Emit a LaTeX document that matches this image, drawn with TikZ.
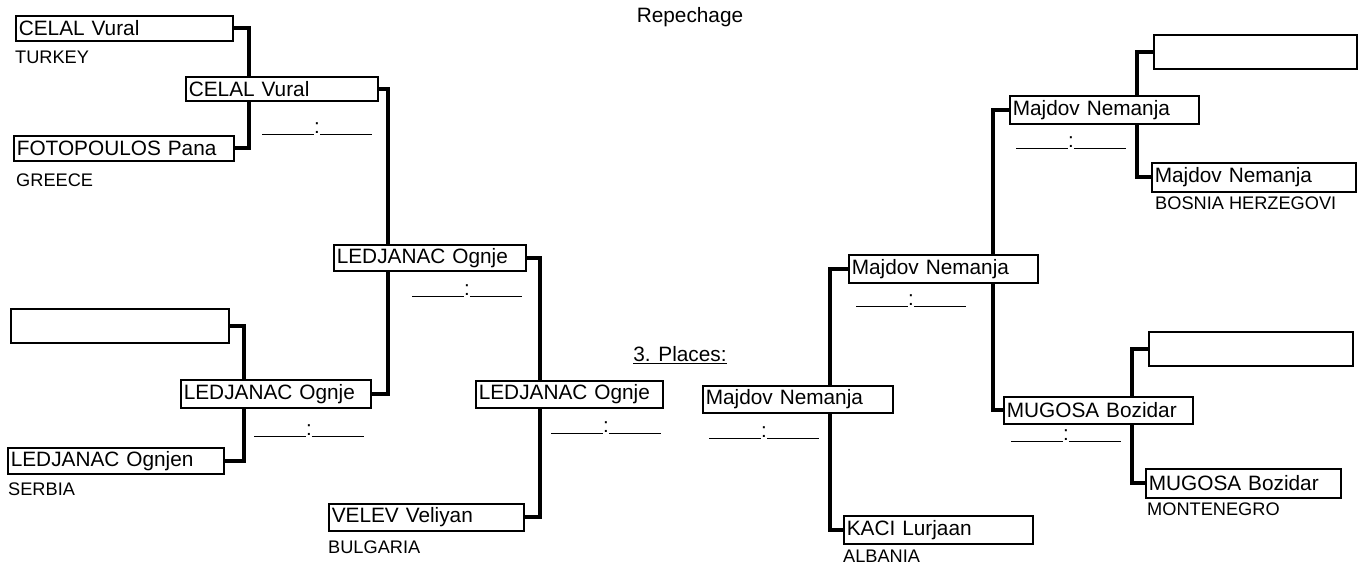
\documentclass[tikz,border=0pt]{standalone}
\usepackage{fontspec}
\setmainfont{Liberation Sans}
\pgfdeclarelayer{background}
\pgfsetlayers{background,main}
\begin{document}
\begin{tikzpicture}[x=1pt,y=-1pt,
  namebox/.style={draw, line width=1.6pt, fill=white, anchor=north west,
    inner xsep=3pt, inner ysep=0pt, align=left,
    font=\fontsize{20.8}{22}\selectfont},
  country/.style={anchor=west, inner sep=0pt, font=\fontsize{18.2}{19}\selectfont},
  score/.style={anchor=base, inner sep=0pt, font=\fontsize{20.5}{22}\selectfont},
  title/.style={inner sep=0pt, font=\fontsize{20.8}{22}\selectfont},
  conn/.style={line width=4.2pt}]
\useasboundingbox (0,0) rectangle (1358,565);

% titles
\node[title] (rep) at (690,17) {Repechage};
\node[title] (pl) at (680,355) {\underline{3. Places:}};

% left bracket
\node[namebox, text width=211pt, minimum height=25pt] (c1) at (15,15) {CELAL Vural};
\node[namebox, text width=214pt, minimum height=25pt] (f1) at (13,135) {FOTOPOULOS Pana};
\node[namebox, text width=186pt, minimum height=24pt] (c2) at (185,76) {CELAL Vural};
\node[namebox, text width=212pt, minimum height=34pt] (b1) at (10,308) {};
\node[namebox, text width=210pt, minimum height=26pt] (l1) at (7,447) {LEDJANAC Ognjen};
\node[namebox, text width=184pt, minimum height=28pt] (l2) at (180,379) {LEDJANAC Ognje};
\node[namebox, text width=186pt, minimum height=26pt] (l3) at (333,244) {LEDJANAC Ognje};
\node[namebox, text width=181pt, minimum height=27pt] (l4) at (475,380) {LEDJANAC Ognje};
\node[namebox, text width=189pt, minimum height=27pt] (v1) at (328,503) {VELEV Veliyan};

% right bracket
\node[namebox, text width=184pt, minimum height=27pt] (m4) at (702,385) {Majdov Nemanja};
\node[namebox, text width=183pt, minimum height=28pt] (m3) at (848,254) {Majdov Nemanja};
\node[namebox, text width=183pt, minimum height=28pt] (k1) at (843,515) {KACI Lurjaan};
\node[namebox, text width=183pt, minimum height=28pt] (m2) at (1009,95) {Majdov Nemanja};
\node[namebox, text width=197pt, minimum height=34pt] (bt) at (1153,34) {};
\node[namebox, text width=198pt, minimum height=29pt] (m1) at (1151,162) {Majdov Nemanja};
\node[namebox, text width=183pt, minimum height=27pt] (mu2) at (1003,396) {MUGOSA Bozidar};
\node[namebox, text width=198pt, minimum height=34pt] (bb) at (1148,331) {};
\node[namebox, text width=189pt, minimum height=29pt] (mu1) at (1145,468) {MUGOSA Bozidar};

% countries
\node[country] (tur) at (15,57) {TURKEY};
\node[country] (gre) at (16,180) {GREECE};
\node[country] (ser) at (8,489) {SERBIA};
\node[country] (bul) at (328,547) {BULGARIA};
\node[country] (alb) at (843,556) {ALBANIA};
\node[country] (bih) at (1155,203) {BOSNIA HERZEGOVI};
\node[country] (mne) at (1147,509) {MONTENEGRO};

% score lines
\node[score] (s1) at (317,133) {\rule[-1.5pt]{52pt}{0.9pt}:\rule[-1.5pt]{52pt}{0.9pt}};
\node[score] (s2) at (309,435) {\rule[-1.5pt]{52pt}{0.9pt}:\rule[-1.5pt]{52pt}{0.9pt}};
\node[score] (s3) at (467,295) {\rule[-1.5pt]{52pt}{0.9pt}:\rule[-1.5pt]{52pt}{0.9pt}};
\node[score] (s4) at (606,432) {\rule[-1.5pt]{52pt}{0.9pt}:\rule[-1.5pt]{52pt}{0.9pt}};
\node[score] (s5) at (764,437) {\rule[-1.5pt]{52pt}{0.9pt}:\rule[-1.5pt]{52pt}{0.9pt}};
\node[score] (s6) at (911,305) {\rule[-1.5pt]{52pt}{0.9pt}:\rule[-1.5pt]{52pt}{0.9pt}};
\node[score] (s7) at (1071,147) {\rule[-1.5pt]{52pt}{0.9pt}:\rule[-1.5pt]{52pt}{0.9pt}};
\node[score] (s8) at (1066,440) {\rule[-1.5pt]{52pt}{0.9pt}:\rule[-1.5pt]{52pt}{0.9pt}};

% connectors
\begin{pgfonlayer}{background}
\draw[conn] (c1.east) -- ++(15,0) |- (f1.east);
\draw[conn] (c2.east) -- ++(9,0) |- (l2.east);
\draw[conn] (b1.east) -- ++(14,0) |- (l1.east);
\draw[conn] (l3.east) -- ++(13,0) |- (v1.east);
\draw[conn] (m3.west) -- ++(-18,0) |- (k1.west);
\draw[conn] (m2.west) -- ++(-16,0) |- (mu2.west);
\draw[conn] (bt.west) -- ++(-16,0) |- (m1.west);
\draw[conn] (bb.west) -- ++(-16,0) |- (mu1.west);
\end{pgfonlayer}
\end{tikzpicture}
\end{document}
